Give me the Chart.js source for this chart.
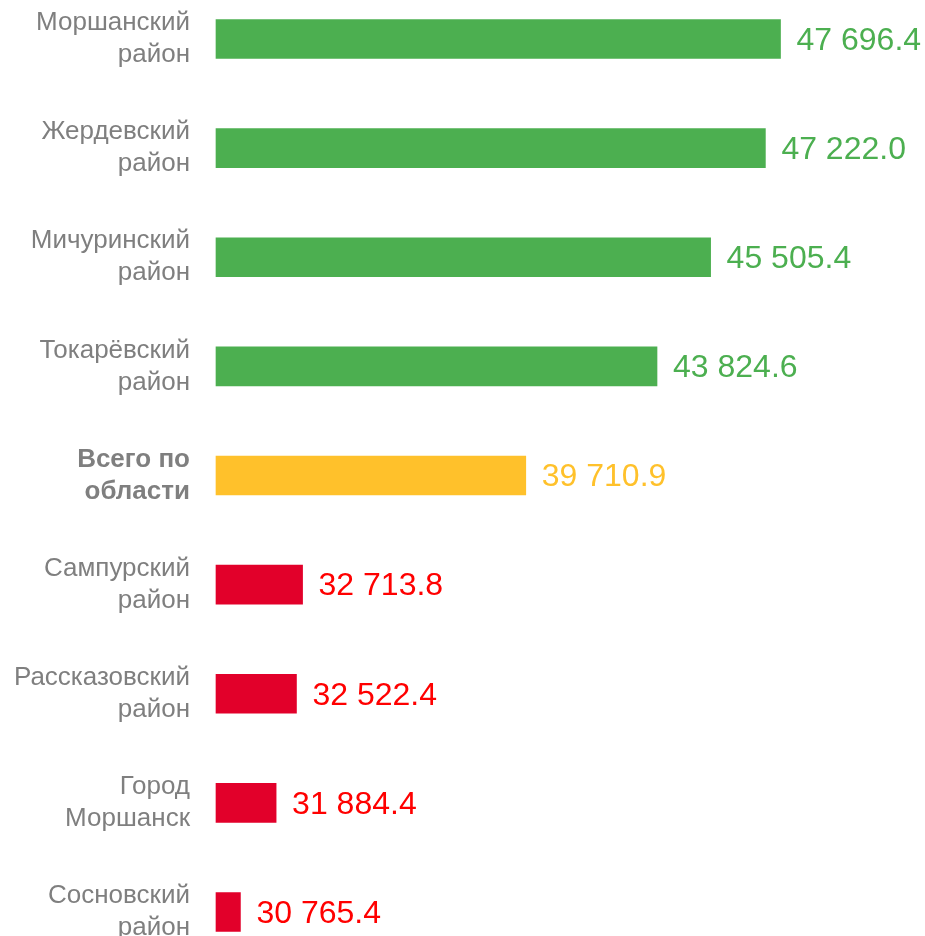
<!DOCTYPE html>
<html>
<head>
<meta charset="utf-8">
<script src="https://cdn.jsdelivr.net/npm/chart.js@4/dist/chart.umd.min.js"></script>
<style>
  html, body { margin: 0; padding: 0; background: #fff; }
  #wrap { width: 925px; height: 936px; position: relative; }
</style>
</head>
<body>
<div id="wrap"><canvas id="bar-chart"></canvas></div>
<script>
const districts = [
    ['Моршанский', 'район'],
    ['Жердевский', 'район'],
    ['Мичуринский', 'район'],
    ['Токарёвский', 'район'],
    ['Всего по', 'области'],
    ['Сампурский', 'район'],
    ['Рассказовский', 'район'],
    ['Город', 'Моршанск'],
    ['Сосновский', 'район']
];
const salaries = [47696.4, 47222.0, 45505.4, 43824.6, 39710.9, 32713.8, 32522.4, 31884.4, 30765.4];
const axisMin = 30000;
const axisMax = 50000;

const totalIndex = 4;
const barColors = ['#4caf50', '#4caf50', '#4caf50', '#4caf50', '#ffc12b', '#e2002a', '#e2002a', '#e2002a', '#e2002a'];
const textColors = ['#4caf50', '#4caf50', '#4caf50', '#4caf50', '#ffc12b', '#ff0000', '#ff0000', '#ff0000', '#ff0000'];

function formatValue(v) {
    const parts = v.toFixed(1).split('.');
    return parts[0].replace(/\B(?=(\d{3})+(?!\d))/g, ' ') + '.' + parts[1];
}

// value labels to the right of each bar
const valueLabels = {
    id: 'valueLabels',
    afterDatasetsDraw(chart) {
        const ctx = chart.ctx;
        const meta = chart.getDatasetMeta(0);
        ctx.save();
        ctx.font = '32px "Liberation Sans", Arial, sans-serif';
        ctx.textAlign = 'left';
        ctx.textBaseline = 'middle';
        meta.data.forEach((bar, i) => {
            ctx.fillStyle = textColors[i];
            ctx.fillText(formatValue(salaries[i]), bar.x + 16, bar.y + 2);
        });
        ctx.restore();
    }
};

function init() {
    Chart.defaults.font.family = '"Liberation Sans", Arial, sans-serif';
    const ctx = document.getElementById('bar-chart').getContext('2d');
    window.barChart = new Chart(ctx, {
        type: 'bar',
        data: {
            labels: districts,
            datasets: [{
                data: salaries,
                base: axisMin,
                backgroundColor: barColors,
                borderWidth: 0,
                barThickness: 39,
                clip: false
            }]
        },
        options: {
            indexAxis: 'y',
            responsive: true,
            maintainAspectRatio: false,
            animation: false,
            layout: {
                padding: { top: 39, bottom: 24, left: 0, right: 71 }
            },
            plugins: {
                legend: { display: false },
                tooltip: { enabled: false }
            },
            scales: {
                x: {
                    display: false,
                    min: axisMin,
                    max: axisMax
                },
                y: {
                    offset: false,
                    border: { display: false },
                    grid: { display: false, drawTicks: false },
                    ticks: {
                        padding: 26,
                        color: '#7f7f7f',
                        font: (c) => ({
                            size: 26,
                            lineHeight: 1.23,
                            weight: c.index === totalIndex ? 'bold' : 'normal'
                        })
                    },
                    afterFit(scale) {
                        scale.width = 216;
                        scale.paddingTop = 0;
                        scale.paddingBottom = 0;
                    }
                }
            }
        },
        plugins: [valueLabels]
    });
}

document.addEventListener('DOMContentLoaded', init);
</script>
</body>
</html>
